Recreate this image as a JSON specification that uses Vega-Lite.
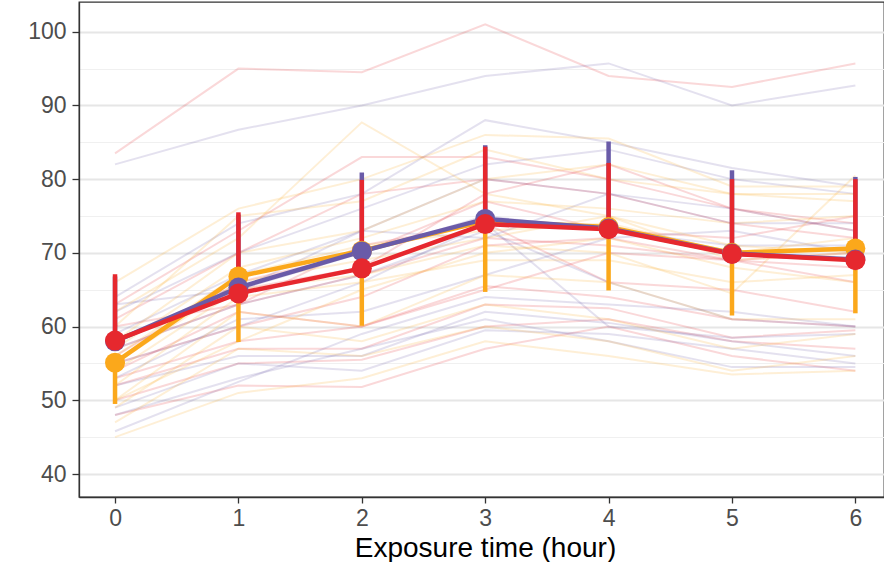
{
  "$schema": "https://vega.github.io/schema/vega-lite/v6.json",
  "width": 805,
  "height": 495,
  "autosize": {"type": "none"},
  "padding": {"left": 79, "top": 2, "right": 0, "bottom": 65},
  "background": "white",
  "config": {
    "font": "Liberation Sans",
    "view": {"stroke": "#333333", "strokeWidth": 1.3},
    "axis": {
      "labelFont": "Liberation Sans",
      "titleFont": "Liberation Sans",
      "domainColor": "#333333",
      "domainWidth": 1.3,
      "tickColor": "#333333",
      "tickWidth": 1.3,
      "tickSize": 6,
      "labelColor": "#4D4D4D",
      "labelFontSize": 23,
      "titleColor": "#000000",
      "titleFontWeight": "normal"
    }
  },
  "datasets": {
    "indiv": [
      {"id":"R1","g":"C","t":0,"v":83.5},{"id":"R1","g":"C","t":1,"v":95},{"id":"R1","g":"C","t":2,"v":94.5},{"id":"R1","g":"C","t":3,"v":101},{"id":"R1","g":"C","t":4,"v":94},{"id":"R1","g":"C","t":5,"v":92.5},{"id":"R1","g":"C","t":6,"v":95.7},
      {"id":"R2","g":"C","t":0,"v":63},{"id":"R2","g":"C","t":1,"v":73},{"id":"R2","g":"C","t":2,"v":83},{"id":"R2","g":"C","t":3,"v":83},{"id":"R2","g":"C","t":4,"v":80},{"id":"R2","g":"C","t":5,"v":76},{"id":"R2","g":"C","t":6,"v":74},
      {"id":"R3","g":"C","t":0,"v":61},{"id":"R3","g":"C","t":1,"v":70},{"id":"R3","g":"C","t":2,"v":78},{"id":"R3","g":"C","t":3,"v":80},{"id":"R3","g":"C","t":4,"v":78},{"id":"R3","g":"C","t":5,"v":74},{"id":"R3","g":"C","t":6,"v":72},
      {"id":"R4","g":"C","t":0,"v":58},{"id":"R4","g":"C","t":1,"v":65},{"id":"R4","g":"C","t":2,"v":68},{"id":"R4","g":"C","t":3,"v":78},{"id":"R4","g":"C","t":4,"v":82},{"id":"R4","g":"C","t":5,"v":76},{"id":"R4","g":"C","t":6,"v":73},
      {"id":"R5","g":"C","t":0,"v":57},{"id":"R5","g":"C","t":1,"v":63},{"id":"R5","g":"C","t":2,"v":67},{"id":"R5","g":"C","t":3,"v":72},{"id":"R5","g":"C","t":4,"v":71},{"id":"R5","g":"C","t":5,"v":69},{"id":"R5","g":"C","t":6,"v":70},
      {"id":"R6","g":"C","t":0,"v":55},{"id":"R6","g":"C","t":1,"v":60},{"id":"R6","g":"C","t":2,"v":64},{"id":"R6","g":"C","t":3,"v":71},{"id":"R6","g":"C","t":4,"v":72},{"id":"R6","g":"C","t":5,"v":69},{"id":"R6","g":"C","t":6,"v":68},
      {"id":"R7","g":"C","t":0,"v":54},{"id":"R7","g":"C","t":1,"v":62},{"id":"R7","g":"C","t":2,"v":60},{"id":"R7","g":"C","t":3,"v":65},{"id":"R7","g":"C","t":4,"v":70},{"id":"R7","g":"C","t":5,"v":69},{"id":"R7","g":"C","t":6,"v":66},
      {"id":"R8","g":"C","t":0,"v":53},{"id":"R8","g":"C","t":1,"v":58},{"id":"R8","g":"C","t":2,"v":60},{"id":"R8","g":"C","t":3,"v":65.5},{"id":"R8","g":"C","t":4,"v":64},{"id":"R8","g":"C","t":5,"v":61},{"id":"R8","g":"C","t":6,"v":60},
      {"id":"R9","g":"C","t":0,"v":52},{"id":"R9","g":"C","t":1,"v":57},{"id":"R9","g":"C","t":2,"v":57},{"id":"R9","g":"C","t":3,"v":63},{"id":"R9","g":"C","t":4,"v":62.5},{"id":"R9","g":"C","t":5,"v":58.5},{"id":"R9","g":"C","t":6,"v":59.5},
      {"id":"R10","g":"C","t":0,"v":50},{"id":"R10","g":"C","t":1,"v":55},{"id":"R10","g":"C","t":2,"v":55.5},{"id":"R10","g":"C","t":3,"v":60},{"id":"R10","g":"C","t":4,"v":61},{"id":"R10","g":"C","t":5,"v":58},{"id":"R10","g":"C","t":6,"v":57},
      {"id":"R11","g":"C","t":0,"v":48},{"id":"R11","g":"C","t":1,"v":52},{"id":"R11","g":"C","t":2,"v":51.8},{"id":"R11","g":"C","t":3,"v":57},{"id":"R11","g":"C","t":4,"v":60},{"id":"R11","g":"C","t":5,"v":56},{"id":"R11","g":"C","t":6,"v":54},
      {"id":"R12","g":"C","t":0,"v":60},{"id":"R12","g":"C","t":1,"v":63},{"id":"R12","g":"C","t":2,"v":71},{"id":"R12","g":"C","t":3,"v":74},{"id":"R12","g":"C","t":4,"v":66},{"id":"R12","g":"C","t":5,"v":65},{"id":"R12","g":"C","t":6,"v":62},
      {"id":"R13","g":"C","t":0,"v":56},{"id":"R13","g":"C","t":1,"v":66},{"id":"R13","g":"C","t":2,"v":70},{"id":"R13","g":"C","t":3,"v":77},{"id":"R13","g":"C","t":4,"v":73},{"id":"R13","g":"C","t":5,"v":72},{"id":"R13","g":"C","t":6,"v":75},
      {"id":"P1","g":"B","t":0,"v":82},{"id":"P1","g":"B","t":1,"v":86.7},{"id":"P1","g":"B","t":2,"v":90},{"id":"P1","g":"B","t":3,"v":94},{"id":"P1","g":"B","t":4,"v":95.7},{"id":"P1","g":"B","t":5,"v":90},{"id":"P1","g":"B","t":6,"v":92.7},
      {"id":"P2","g":"B","t":0,"v":64},{"id":"P2","g":"B","t":1,"v":74},{"id":"P2","g":"B","t":2,"v":78},{"id":"P2","g":"B","t":3,"v":88},{"id":"P2","g":"B","t":4,"v":85},{"id":"P2","g":"B","t":5,"v":81.5},{"id":"P2","g":"B","t":6,"v":79},
      {"id":"P3","g":"B","t":0,"v":62},{"id":"P3","g":"B","t":1,"v":70},{"id":"P3","g":"B","t":2,"v":76},{"id":"P3","g":"B","t":3,"v":82},{"id":"P3","g":"B","t":4,"v":84},{"id":"P3","g":"B","t":5,"v":80},{"id":"P3","g":"B","t":6,"v":78},
      {"id":"P4","g":"B","t":0,"v":59},{"id":"P4","g":"B","t":1,"v":67},{"id":"P4","g":"B","t":2,"v":73},{"id":"P4","g":"B","t":3,"v":80},{"id":"P4","g":"B","t":4,"v":78},{"id":"P4","g":"B","t":5,"v":76},{"id":"P4","g":"B","t":6,"v":73},
      {"id":"P5","g":"B","t":0,"v":58},{"id":"P5","g":"B","t":1,"v":65},{"id":"P5","g":"B","t":2,"v":70},{"id":"P5","g":"B","t":3,"v":75},{"id":"P5","g":"B","t":4,"v":73},{"id":"P5","g":"B","t":5,"v":71},{"id":"P5","g":"B","t":6,"v":71},
      {"id":"P6","g":"B","t":0,"v":57},{"id":"P6","g":"B","t":1,"v":63},{"id":"P6","g":"B","t":2,"v":67},{"id":"P6","g":"B","t":3,"v":73},{"id":"P6","g":"B","t":4,"v":66},{"id":"P6","g":"B","t":5,"v":61},{"id":"P6","g":"B","t":6,"v":60},
      {"id":"P7","g":"B","t":0,"v":55},{"id":"P7","g":"B","t":1,"v":60},{"id":"P7","g":"B","t":2,"v":66},{"id":"P7","g":"B","t":3,"v":74},{"id":"P7","g":"B","t":4,"v":60},{"id":"P7","g":"B","t":5,"v":58.5},{"id":"P7","g":"B","t":6,"v":59},
      {"id":"P8","g":"B","t":0,"v":53},{"id":"P8","g":"B","t":1,"v":61},{"id":"P8","g":"B","t":2,"v":62},{"id":"P8","g":"B","t":3,"v":67},{"id":"P8","g":"B","t":4,"v":72},{"id":"P8","g":"B","t":5,"v":73},{"id":"P8","g":"B","t":6,"v":70},
      {"id":"P9","g":"B","t":0,"v":52},{"id":"P9","g":"B","t":1,"v":56},{"id":"P9","g":"B","t":2,"v":56},{"id":"P9","g":"B","t":3,"v":62},{"id":"P9","g":"B","t":4,"v":60.5},{"id":"P9","g":"B","t":5,"v":58},{"id":"P9","g":"B","t":6,"v":56},
      {"id":"P10","g":"B","t":0,"v":49},{"id":"P10","g":"B","t":1,"v":55},{"id":"P10","g":"B","t":2,"v":54},{"id":"P10","g":"B","t":3,"v":59.5},{"id":"P10","g":"B","t":4,"v":59},{"id":"P10","g":"B","t":5,"v":57},{"id":"P10","g":"B","t":6,"v":55},
      {"id":"P11","g":"B","t":0,"v":48},{"id":"P11","g":"B","t":1,"v":53},{"id":"P11","g":"B","t":2,"v":57},{"id":"P11","g":"B","t":3,"v":61},{"id":"P11","g":"B","t":4,"v":58},{"id":"P11","g":"B","t":5,"v":54.5},{"id":"P11","g":"B","t":6,"v":54.5},
      {"id":"P12","g":"B","t":0,"v":45.8},{"id":"P12","g":"B","t":1,"v":52.5},{"id":"P12","g":"B","t":2,"v":59},{"id":"P12","g":"B","t":3,"v":64},{"id":"P12","g":"B","t":4,"v":63},{"id":"P12","g":"B","t":5,"v":62},{"id":"P12","g":"B","t":6,"v":60},
      {"id":"P13","g":"B","t":0,"v":63},{"id":"P13","g":"B","t":1,"v":65},{"id":"P13","g":"B","t":2,"v":73},{"id":"P13","g":"B","t":3,"v":72},{"id":"P13","g":"B","t":4,"v":78},{"id":"P13","g":"B","t":5,"v":74},{"id":"P13","g":"B","t":6,"v":74},
      {"id":"O1","g":"A","t":0,"v":62},{"id":"O1","g":"A","t":1,"v":72},{"id":"O1","g":"A","t":2,"v":87.7},{"id":"O1","g":"A","t":3,"v":78},{"id":"O1","g":"A","t":4,"v":75},{"id":"O1","g":"A","t":5,"v":71},{"id":"O1","g":"A","t":6,"v":70},
      {"id":"O2","g":"A","t":0,"v":66},{"id":"O2","g":"A","t":1,"v":76},{"id":"O2","g":"A","t":2,"v":80},{"id":"O2","g":"A","t":3,"v":86},{"id":"O2","g":"A","t":4,"v":85.5},{"id":"O2","g":"A","t":5,"v":79},{"id":"O2","g":"A","t":6,"v":79},
      {"id":"O3","g":"A","t":0,"v":60},{"id":"O3","g":"A","t":1,"v":75},{"id":"O3","g":"A","t":2,"v":77},{"id":"O3","g":"A","t":3,"v":84},{"id":"O3","g":"A","t":4,"v":80},{"id":"O3","g":"A","t":5,"v":78},{"id":"O3","g":"A","t":6,"v":77},
      {"id":"O4","g":"A","t":0,"v":58},{"id":"O4","g":"A","t":1,"v":70},{"id":"O4","g":"A","t":2,"v":73},{"id":"O4","g":"A","t":3,"v":80},{"id":"O4","g":"A","t":4,"v":82},{"id":"O4","g":"A","t":5,"v":78},{"id":"O4","g":"A","t":6,"v":78},
      {"id":"O5","g":"A","t":0,"v":57},{"id":"O5","g":"A","t":1,"v":68},{"id":"O5","g":"A","t":2,"v":72},{"id":"O5","g":"A","t":3,"v":77},{"id":"O5","g":"A","t":4,"v":76},{"id":"O5","g":"A","t":5,"v":74},{"id":"O5","g":"A","t":6,"v":75},
      {"id":"O6","g":"A","t":0,"v":56},{"id":"O6","g":"A","t":1,"v":67},{"id":"O6","g":"A","t":2,"v":71},{"id":"O6","g":"A","t":3,"v":73},{"id":"O6","g":"A","t":4,"v":74},{"id":"O6","g":"A","t":5,"v":70},{"id":"O6","g":"A","t":6,"v":72},
      {"id":"O7","g":"A","t":0,"v":55},{"id":"O7","g":"A","t":1,"v":66},{"id":"O7","g":"A","t":2,"v":69},{"id":"O7","g":"A","t":3,"v":72},{"id":"O7","g":"A","t":4,"v":75},{"id":"O7","g":"A","t":5,"v":69},{"id":"O7","g":"A","t":6,"v":70},
      {"id":"O8","g":"A","t":0,"v":54},{"id":"O8","g":"A","t":1,"v":65},{"id":"O8","g":"A","t":2,"v":67},{"id":"O8","g":"A","t":3,"v":71},{"id":"O8","g":"A","t":4,"v":70},{"id":"O8","g":"A","t":5,"v":64.5},{"id":"O8","g":"A","t":6,"v":80.5},
      {"id":"O9","g":"A","t":0,"v":52},{"id":"O9","g":"A","t":1,"v":64},{"id":"O9","g":"A","t":2,"v":66},{"id":"O9","g":"A","t":3,"v":69},{"id":"O9","g":"A","t":4,"v":69},{"id":"O9","g":"A","t":5,"v":66},{"id":"O9","g":"A","t":6,"v":67},
      {"id":"O10","g":"A","t":0,"v":50},{"id":"O10","g":"A","t":1,"v":62},{"id":"O10","g":"A","t":2,"v":60},{"id":"O10","g":"A","t":3,"v":67},{"id":"O10","g":"A","t":4,"v":66},{"id":"O10","g":"A","t":5,"v":61},{"id":"O10","g":"A","t":6,"v":61},
      {"id":"O11","g":"A","t":0,"v":49},{"id":"O11","g":"A","t":1,"v":60},{"id":"O11","g":"A","t":2,"v":58},{"id":"O11","g":"A","t":3,"v":63},{"id":"O11","g":"A","t":4,"v":61},{"id":"O11","g":"A","t":5,"v":57},{"id":"O11","g":"A","t":6,"v":59},
      {"id":"O12","g":"A","t":0,"v":47},{"id":"O12","g":"A","t":1,"v":57},{"id":"O12","g":"A","t":2,"v":56},{"id":"O12","g":"A","t":3,"v":60},{"id":"O12","g":"A","t":4,"v":58},{"id":"O12","g":"A","t":5,"v":54},{"id":"O12","g":"A","t":6,"v":56},
      {"id":"O13","g":"A","t":0,"v":45},{"id":"O13","g":"A","t":1,"v":51},{"id":"O13","g":"A","t":2,"v":53},{"id":"O13","g":"A","t":3,"v":58},{"id":"O13","g":"A","t":4,"v":56},{"id":"O13","g":"A","t":5,"v":53.5},{"id":"O13","g":"A","t":6,"v":54},
      {"id":"O14","g":"A","t":0,"v":50},{"id":"O14","g":"A","t":1,"v":58},{"id":"O14","g":"A","t":2,"v":65},{"id":"O14","g":"A","t":3,"v":70},{"id":"O14","g":"A","t":4,"v":72},{"id":"O14","g":"A","t":5,"v":68},{"id":"O14","g":"A","t":6,"v":66}
    ],
    "summary": [
      {"g":"A","t":0,"mean":55.1,"lo":49.5,"hi":55.1},
      {"g":"A","t":1,"mean":66.8,"lo":57.9,"hi":66.8},
      {"g":"A","t":2,"mean":70.3,"lo":60.1,"hi":70.3},
      {"g":"A","t":3,"mean":74.3,"lo":64.7,"hi":74.3},
      {"g":"A","t":4,"mean":73.5,"lo":64.9,"hi":73.5},
      {"g":"A","t":5,"mean":70.0,"lo":61.5,"hi":70.0},
      {"g":"A","t":6,"mean":70.6,"lo":61.8,"hi":70.6},
      {"g":"B","t":0,"mean":58.0,"lo":58.0,"hi":66.8},
      {"g":"B","t":1,"mean":65.3,"lo":65.3,"hi":75.2},
      {"g":"B","t":2,"mean":70.2,"lo":70.2,"hi":80.9},
      {"g":"B","t":3,"mean":74.6,"lo":74.6,"hi":84.6},
      {"g":"B","t":4,"mean":73.3,"lo":73.3,"hi":85.1},
      {"g":"B","t":5,"mean":69.9,"lo":69.9,"hi":81.2},
      {"g":"B","t":6,"mean":69.1,"lo":69.1,"hi":80.3},
      {"g":"C","t":0,"mean":58.1,"lo":58.1,"hi":67.1},
      {"g":"C","t":1,"mean":64.5,"lo":64.5,"hi":75.5},
      {"g":"C","t":2,"mean":67.9,"lo":67.9,"hi":79.9},
      {"g":"C","t":3,"mean":73.9,"lo":73.9,"hi":84.4},
      {"g":"C","t":4,"mean":73.2,"lo":73.2,"hi":82.2},
      {"g":"C","t":5,"mean":69.85,"lo":69.85,"hi":80.0},
      {"g":"C","t":6,"mean":69.0,"lo":69.0,"hi":80.0}
    ]
  },
  "encoding": {
    "x": {
      "field": "t",
      "type": "quantitative",
      "scale": {"domain": [-0.292, 6.232], "nice": false, "zero": false},
      "axis": {
        "values": [0, 1, 2, 3, 4, 5, 6],
        "grid": false,
        "title": "Exposure time (hour)",
        "titleFontSize": 28,
        "titlePadding": 4,
        "titleX": 406,
        "labelPadding": 4,
        "labelFontSize": 23
      }
    }
  },
  "layer": [
    {
      "data": {"name": "indiv"},
      "mark": {"type": "line", "strokeWidth": 2, "opacity": 0.18},
      "encoding": {
        "y": {
          "field": "v",
          "type": "quantitative",
          "scale": {"domain": [36.88, 104.03], "nice": false, "zero": false},
          "axis": {
            "values": [40, 45, 50, 55, 60, 65, 70, 75, 80, 85, 90, 95, 100],
            "labelExpr": "datum.value % 10 === 0 ? datum.label : ''",
            "title": null,
            "grid": true,
            "gridColor": {"condition": {"test": "datum.value % 10 === 0", "value": "#E6E6E6"}, "value": "#F0F0F0"},
            "gridWidth": {"condition": {"test": "datum.value % 10 === 0", "value": 1.8}, "value": 1.2},
            "tickOpacity": {"condition": {"test": "datum.value % 10 === 0", "value": 1}, "value": 0},
            "tickSize": 7,
            "labelPadding": 6
          }
        },
        "color": {
          "field": "g",
          "type": "nominal",
          "scale": {"domain": ["A", "B", "C"], "range": ["#FBA81B", "#6A5BA8", "#E6282E"]},
          "legend": null
        },
        "detail": {"field": "id"}
      }
    },
    {
      "data": {"name": "summary"},
      "mark": {"type": "rule", "strokeWidth": 4.5},
      "encoding": {
        "y": {"field": "lo", "type": "quantitative"},
        "y2": {"field": "hi"},
        "color": {"field": "g", "type": "nominal", "legend": null}
      }
    },
    {
      "data": {"name": "summary"},
      "mark": {"type": "line", "strokeWidth": 4.5},
      "encoding": {
        "y": {"field": "mean", "type": "quantitative"},
        "color": {"field": "g", "type": "nominal", "legend": null}
      }
    },
    {
      "data": {"name": "summary"},
      "mark": {"type": "point", "filled": true, "size": 400, "opacity": 1},
      "encoding": {
        "y": {"field": "mean", "type": "quantitative"},
        "color": {"field": "g", "type": "nominal", "legend": null}
      }
    }
  ]
}
